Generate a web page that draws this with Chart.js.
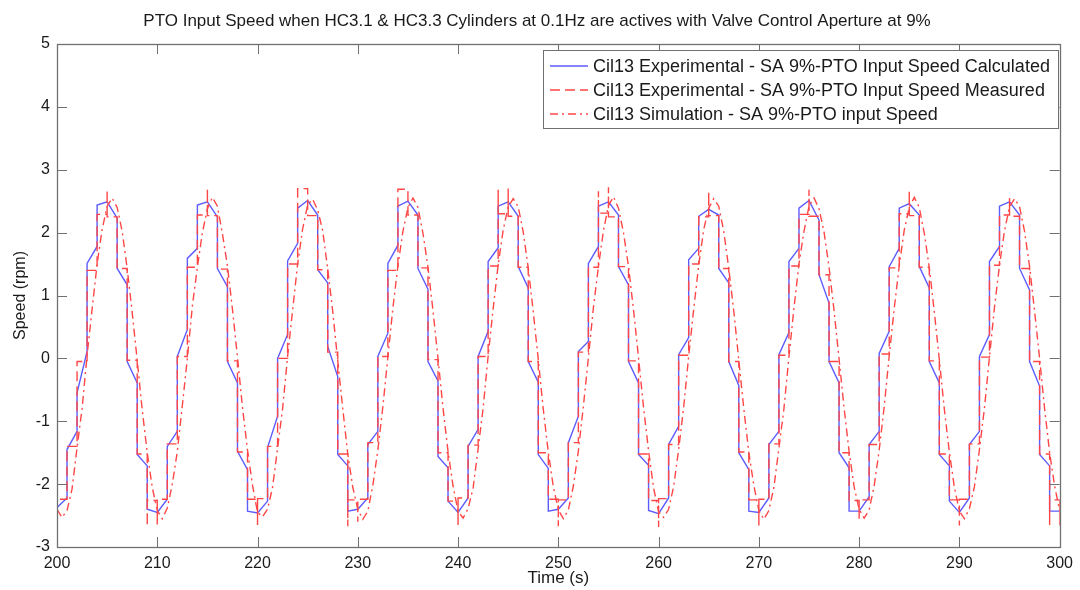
<!DOCTYPE html>
<html>
<head>
<meta charset="utf-8">
<title>PTO Input Speed</title>
<script src="https://cdn.jsdelivr.net/npm/chart.js@4.4.1/dist/chart.umd.min.js"></script>
<style>
  html, body { margin: 0; padding: 0; background: #fff; }
  #wrap { width: 1080px; height: 590px; }
</style>
</head>
<body>
<div id="wrap"><canvas id="chart" width="1080" height="590"></canvas></div>
<script>
// time base (s): one experimental sample per second, simulation every 0.5 s
const tStart = 200;
const simStep = 0.5;
const xTicks = [200, 210, 220, 230, 240, 250, 260, 270, 280, 290, 300];
const yTicks = [-3, -2, -1, 0, 1, 2, 3, 4, 5];

const chartTitle = 'PTO Input Speed when HC3.1 & HC3.3 Cylinders at 0.1Hz are actives with Valve Control Aperture at 9%';
const seriesNames = [
  'Cil13 Experimental - SA 9%-PTO Input Speed Calculated',
  'Cil13 Experimental - SA 9%-PTO Input Speed Measured',
  'Cil13 Simulation - SA 9%-PTO input Speed'
];

// calculated speed: value reached at each second, and value right after the step
const calcIn = [
  -2.37, -2.22, -1.16, 0.11, 1.78, 2.49, 2.23, 1.17, -0.39, -1.71,
  -2.45, -2.24, -1.16, 0.46, 1.75, 2.49, 2.25, 1.14, -0.39, -1.77,
  -2.46, -2.27, -0.92, 0.38, 1.83, 2.51, 2.28, 1.20, -0.29, -1.71,
  -2.40, -2.22, -1.16, 0.40, 1.80, 2.50, 2.28, 1.10, -0.36, -1.74,
  -2.45, -2.22, -1.13, 0.43, 1.76, 2.49, 2.26, 1.12, -0.38, -1.75,
  -2.40, -2.22, -0.92, 0.27, 1.78, 2.49, 2.28, 1.17, -0.39, -1.70,
  -2.47, -2.22, -1.08, 0.33, 1.75, 2.37, 2.28, 1.20, -0.43, -1.77,
  -2.45, -2.22, -1.16, 0.41, 1.75, 2.51, 2.20, 0.88, -0.39, -1.74,
  -2.43, -2.20, -1.16, 0.43, 1.75, 2.46, 2.28, 1.12, -0.39, -1.71,
  -2.45, -2.22, -1.16, 0.38, 1.78, 2.49, 2.28, 1.09, -0.44, -1.71,
  -2.43
];
const calcOut = [
  -2.37, -1.45, -0.55, 1.51, 2.44, 2.49, 1.43, -0.05, -1.53, -2.40,
  -2.45, -1.40, 0.03, 1.59, 2.44, 2.49, 1.43, -0.05, -1.48, -2.43,
  -2.46, -1.42, 0.00, 1.55, 2.39, 2.51, 1.41, 0.19, -1.53, -2.43,
  -2.40, -1.37, 0.03, 1.51, 2.42, 2.50, 1.43, -0.05, -1.56, -2.27,
  -2.45, -1.40, 0.03, 1.54, 2.42, 2.49, 1.46, -0.05, -1.53, -2.43,
  -2.40, -1.34, 0.11, 1.51, 2.42, 2.49, 1.46, -0.05, -1.53, -2.42,
  -2.47, -1.37, 0.06, 1.57, 2.26, 2.37, 1.43, -0.05, -1.50, -2.43,
  -2.45, -1.37, 0.06, 1.54, 2.39, 2.51, 1.33, -0.05, -1.50, -2.43,
  -2.43, -1.37, 0.08, 1.46, 2.39, 2.46, 1.46, -0.05, -1.53, -2.27,
  -2.45, -1.37, 0.03, 1.54, 2.42, 2.49, 1.43, -0.05, -1.53, -2.43,
  -2.43
];

// measured speed: level held from each second to the next, and overshoot spikes at the step
const measLevel = [
  -2.24, -1.40, -0.05, 1.40, 2.29, 2.25, 1.43, -0.03, -1.52, -2.26,
  -2.24, -1.36, 0.03, 1.45, 2.28, 2.27, 1.42, -0.04, -1.49, -2.24,
  -2.23, -1.40, 0.00, 1.50, 2.70, 2.27, 1.41, 0.10, -1.52, -2.25,
  -2.24, -1.34, 0.03, 1.40, 2.69, 2.28, 1.44, -0.02, -1.50, -2.27,
  -2.22, -1.38, 0.03, 1.47, 2.30, 2.26, 1.45, -0.05, -1.50, -2.24,
  -2.25, -1.34, 0.10, 1.45, 2.31, 2.25, 1.46, -0.04, -1.52, -2.26,
  -2.23, -1.37, 0.05, 1.50, 2.25, 2.27, 1.43, -0.05, -1.49, -2.25,
  -2.24, -1.36, 0.05, 1.47, 2.29, 2.26, 1.33, -0.05, -1.50, -2.26,
  -2.25, -1.37, 0.07, 1.44, 2.30, 2.27, 1.45, -0.04, -1.52, -2.25,
  -2.24, -1.36, 0.02, 1.48, 2.28, 2.26, 1.43, -0.05, -1.52, -2.25,
  -2.24
];
const measSpike = [
  -2.67, null, null, null, null, 2.68, null, null, null, -2.67,
  -2.66, null, null, null, null, 2.70, null, null, null, null,
  -2.65, null, null, null, null, null, null, null, null, -2.67,
  -2.60, null, null, null, null, null, null, null, null, null,
  -2.65, null, null, null, 2.68, 2.70, null, null, null, null,
  -2.67, null, null, null, 2.66, 2.72, null, null, null, null,
  -2.68, null, null, null, null, 2.65, null, null, null, null,
  -2.66, null, null, null, null, 2.68, null, null, null, null,
  -2.55, null, null, null, null, 2.66, null, null, null, null,
  -2.66, null, null, null, null, 2.55, null, null, null, -2.65,
  -2.66
];

// simulated speed, every 0.5 s
const simSpeed = [
  -2.40, -2.53, -2.42, -2.08, -1.42, -0.80, 0.05, 0.78, 1.50, 2.05, 2.42, 2.55, 2.40, 2.02, 1.43, 0.73, -0.03, -0.82, -1.50, -2.05,
  -2.42, -2.55, -2.38, -2.00, -1.48, -0.75, 0.00, 0.83, 1.45, 2.00, 2.38, 2.56, 2.42, 1.98, 1.47, 0.78, 0.02, -0.78, -1.46, -2.02,
  -2.45, -2.52, -2.40, -2.05, -1.43, -0.80, 0.03, 0.77, 1.50, 2.06, 2.44, 2.53, 2.36, 2.03, 1.42, 0.75, -0.04, -0.80, -1.52, -2.05,
  -2.40, -2.56, -2.43, -2.02, -1.46, -0.77, 0.02, 0.80, 1.47, 2.02, 2.40, 2.55, 2.40, 1.99, 1.45, 0.76, 0.00, -0.79, -1.48, -2.03,
  -2.43, -2.54, -2.39, -2.06, -1.44, -0.79, 0.04, 0.79, 1.49, 2.04, 2.41, 2.54, 2.41, 2.01, 1.44, 0.74, -0.02, -0.81, -1.49, -2.04,
  -2.41, -2.55, -2.41, -2.03, -1.47, -0.76, 0.01, 0.81, 1.46, 2.03, 2.43, 2.57, 2.39, 2.00, 1.46, 0.77, 0.01, -0.78, -1.47, -2.06,
  -2.44, -2.53, -2.40, -2.04, -1.45, -0.78, 0.03, 0.78, 1.48, 2.05, 2.39, 2.54, 2.42, 2.02, 1.43, 0.75, -0.03, -0.80, -1.50, -2.02,
  -2.42, -2.56, -2.42, -2.05, -1.43, -0.80, 0.02, 0.80, 1.50, 2.02, 2.42, 2.55, 2.38, 2.01, 1.45, 0.76, -0.01, -0.79, -1.48, -2.04,
  -2.40, -2.54, -2.41, -2.03, -1.46, -0.77, 0.04, 0.79, 1.47, 2.04, 2.40, 2.56, 2.40, 1.99, 1.44, 0.74, -0.02, -0.81, -1.49, -2.05,
  -2.43, -2.55, -2.39, -2.04, -1.45, -0.79, 0.02, 0.81, 1.48, 2.03, 2.41, 2.54, 2.41, 2.02, 1.46, 0.75, 0.00, -0.80, -1.50, -2.03,
  -2.42
];

// build point lists
const calcPts = [];
calcIn.forEach((v, i) => {
  const t = tStart + i;
  calcPts.push({ x: t, y: v });
  if (calcOut[i] !== v) calcPts.push({ x: t, y: calcOut[i] });
});

const measPts = [];
measLevel.forEach((v, i) => {
  const t = tStart + i;
  if (i > 0) measPts.push({ x: t, y: measLevel[i - 1] });
  if (measSpike[i] !== null) measPts.push({ x: t, y: measSpike[i] });
  measPts.push({ x: t, y: v });
});

const simPts = simSpeed.map((v, i) => ({ x: tStart + i * simStep, y: v }));

const FONT = "'Liberation Sans', Arial, Helvetica, sans-serif";
const TEXT = '#1a1a1a';
const FRAME = '#707070';

Chart.defaults.font.family = FONT;
Chart.defaults.color = TEXT;

// matlab-ish frame: box, inward ticks on all sides, title and boxed legend
const matlabFrame = {
  id: 'matlabFrame',
  afterDatasetsDraw(chart) {
    const { ctx, chartArea: a, scales: { x, y } } = chart;
    ctx.save();
    ctx.strokeStyle = FRAME;
    ctx.lineWidth = 1;
    ctx.beginPath();
    xTicks.forEach(v => {
      const px = Math.round(x.getPixelForValue(v)) + 0.5;
      ctx.moveTo(px, a.bottom); ctx.lineTo(px, a.bottom - 10);
      ctx.moveTo(px, a.top); ctx.lineTo(px, a.top + 10);
    });
    yTicks.forEach(v => {
      const py = Math.round(y.getPixelForValue(v)) + 0.5;
      ctx.moveTo(a.left, py); ctx.lineTo(a.left + 10, py);
      ctx.moveTo(a.right, py); ctx.lineTo(a.right - 10, py);
    });
    ctx.stroke();
    ctx.lineWidth = 1.3;
    ctx.strokeRect(Math.round(a.left) + 0.5, Math.round(a.top) + 0.5,
      Math.round(a.right - a.left), Math.round(a.bottom - a.top));
    ctx.restore();
  },
  afterDraw(chart) {
    const { ctx } = chart;
    ctx.save();
    // title
    ctx.fillStyle = TEXT;
    ctx.font = '17px ' + FONT;
    ctx.textAlign = 'center';
    ctx.textBaseline = 'middle';
    ctx.fillText(chartTitle, 537, 21);

    // legend
    const lx = 543, ly = 50, lw = 515, lh = 78;
    ctx.fillStyle = '#fff';
    ctx.fillRect(lx, ly, lw, lh);
    ctx.strokeStyle = FRAME;
    ctx.lineWidth = 1;
    ctx.strokeRect(lx + 0.5, ly + 0.5, lw, lh);
    ctx.textAlign = 'left';
    ctx.font = '18px ' + FONT;
    chart.data.datasets.forEach((ds, i) => {
      const yy = 66 + i * 24;
      ctx.strokeStyle = ds.borderColor;
      ctx.lineWidth = ds.borderWidth;
      ctx.setLineDash(ds.borderDash || []);
      ctx.beginPath();
      ctx.moveTo(550, yy);
      ctx.lineTo(588, yy);
      ctx.stroke();
      ctx.setLineDash([]);
      ctx.fillStyle = TEXT;
      ctx.fillText(ds.label, 593, yy + 1);
    });
    ctx.restore();
  }
};

new Chart(document.getElementById('chart'), {
  type: 'line',
  data: {
    datasets: [
      {
        label: seriesNames[0],
        data: calcPts,
        borderColor: '#5c5cff',
        borderWidth: 1.4,
        pointRadius: 0,
        tension: 0,
        order: 3
      },
      {
        label: seriesNames[1],
        data: measPts,
        borderColor: '#ff4646',
        borderWidth: 1.4,
        borderDash: [10, 5],
        pointRadius: 0,
        tension: 0,
        order: 2
      },
      {
        label: seriesNames[2],
        data: simPts,
        borderColor: '#ff4646',
        borderWidth: 1.4,
        borderDash: [8, 4, 2, 4],
        pointRadius: 0,
        tension: 0,
        order: 1
      }
    ]
  },
  options: {
    responsive: false,
    animation: false,
    devicePixelRatio: 1,
    layout: { padding: { top: 44, right: 17, left: 0, bottom: 0 } },
    plugins: {
      legend: { display: false },
      tooltip: { enabled: false },
      title: { display: false }
    },
    scales: {
      x: {
        type: 'linear',
        min: 200,
        max: 300,
        grid: { display: false, drawTicks: false },
        border: { display: false },
        ticks: { stepSize: 10, padding: 7, maxRotation: 0, autoSkip: false, font: { size: 16 }, color: TEXT },
        title: { display: true, text: 'Time (s)', font: { size: 17 }, color: TEXT, padding: { top: 0, bottom: 1 } },
        afterFit(scale) { scale.height = 43; }
      },
      y: {
        min: -3,
        max: 5,
        grid: { display: false, drawTicks: false },
        border: { display: false },
        ticks: { stepSize: 1, padding: 7, font: { size: 16 }, color: TEXT },
        title: { display: true, text: 'Speed (rpm)', font: { size: 16 }, color: TEXT, padding: { top: 11, bottom: 0 } },
        afterFit(scale) { scale.width = 57; }
      }
    }
  },
  plugins: [matlabFrame]
});
</script>
</body>
</html>
